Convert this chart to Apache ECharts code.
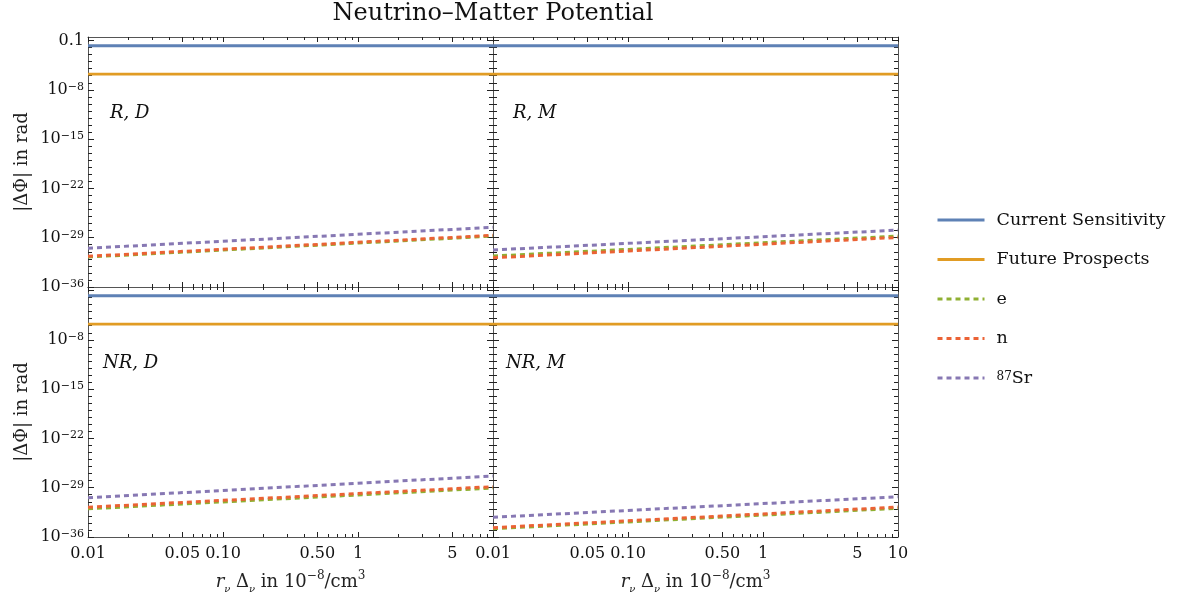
<!DOCTYPE html>
<html><head><meta charset="utf-8">
<script src="https://cdn.jsdelivr.net/npm/echarts@6/dist/echarts.min.js"></script>
<style>html,body{margin:0;padding:0;background:#fff}#c{width:1183px;height:606px}</style>
</head><body><div id="c"></div>
<script>
// ---------- data ----------
const titleText = 'Neutrino–Matter Potential';
const panelNames = ['R, D', 'R, M', 'NR, D', 'NR, M'];
const seriesNames = ['Current Sensitivity', 'Future Prospects', 'e', 'n', '87Sr'];
const xEnds = [0.01, 10];
const currentSensitivity = [1.8e-2, 1.8e-2];
const futureProspects = [1.7e-6, 1.7e-6];
// values at x = 0.01 and x = 10 for each panel
const eRD = [1.8e-32, 1.7e-29];
const nRD = [2.3e-32, 2.2e-29];
const srRD = [3.2e-31, 3.0e-28];
const eRM = [2.5e-32, 1.7e-29];
const nRM = [1.4e-32, 1.1e-29];
const srRM = [1.8e-31, 1.2e-28];
const eNRD = [1.0e-32, 9.1e-30];
const nNRD = [1.7e-32, 1.4e-29];
const srNRD = [3.8e-31, 4.6e-28];
const eNRM = [1.5e-35, 1.2e-32];
const nNRM = [2.1e-35, 1.8e-32];
const srNRM = [6.3e-34, 5.2e-31];
// ticks
const xMajorTicks = [0.01, 0.05, 0.1, 0.5, 1, 5, 10];
const xMajorLabels = ['0.01', '0.05', '0.10', '0.50', '1', '5', '10'];
const xMinorTicks = [0.02, 0.03, 0.04, 0.06, 0.07, 0.08, 0.09, 0.2, 0.3, 0.4, 0.6, 0.7, 0.8, 0.9, 2, 3, 4, 6, 7, 8, 9];
const yMajorExp = [-36, -29, -22, -15, -8, -1];
const yMajorLabels = ['10{s|−36}', '10{s|−29}', '10{s|−22}', '10{s|−15}', '10{s|−8}', '0.1'];
const yRange = [-36, -0.5];

const panelData = [
  [currentSensitivity, futureProspects, eRD, nRD, srRD],
  [currentSensitivity, futureProspects, eRM, nRM, srRM],
  [currentSensitivity, futureProspects, eNRD, nNRD, srNRD],
  [currentSensitivity, futureProspects, eNRM, nNRM, srNRM]
];
const colors = ['#5E81B5', '#E19C24', '#8FB032', '#EB6235', '#8778B3'];

// ---------- build ----------
const FONT = '"DejaVu Serif", "Liberation Serif", serif';
const L = Math.log10;
const grids = [
  {left: 88, top: 37, width: 405, height: 250},
  {left: 493, top: 37, width: 405, height: 250},
  {left: 88, top: 287, width: 405, height: 250},
  {left: 493, top: 287, width: 405, height: 250}
];
const yMinor = [];
for (let k = -35; k <= -1; k++) if (yMajorExp.indexOf(k) < 0) yMinor.push(k);

const lineCol = '#555';
const tickCol = '#222';
const xAxes = [], yAxes = [], series = [];
const xName = '{i|r}{sub|ν} Δ{sub|ν} in 10{sup|−8}/cm{sup|3}';
const yName = '|ΔΦ| in rad';

grids.forEach((g, gi) => {
  const isBottom = gi >= 2, isLeft = gi % 2 === 0;
  const base = {type: 'value', gridIndex: gi, min: L(xEnds[0]), max: L(xEnds[1]), splitLine: {show: false}};
  const xLabelVals = isLeft ? xMajorTicks.slice(0, -1) : xMajorTicks;
  const yLabelVals = isBottom ? yMajorExp.slice(0, -1) : yMajorExp;
  // bottom major
  xAxes.push(Object.assign({}, base, {
    position: 'bottom',
    axisLine: {show: true, onZero: false, lineStyle: {color: lineCol, width: 1}},
    axisTick: {show: true, inside: true, length: 5, customValues: xMajorTicks.map(L), lineStyle: {color: tickCol}},
    axisLabel: {show: isBottom, customValues: xLabelVals.map(L), margin: 9, color: '#111',
      fontFamily: FONT, fontSize: 16,
      formatter: v => { for (let i = 0; i < xMajorTicks.length; i++) if (Math.abs(L(xMajorTicks[i]) - v) < 1e-6) return xMajorLabels[i]; return ''; }},
    name: isBottom ? xName : '', nameLocation: 'middle', nameGap: 33,
    nameTextStyle: {fontFamily: FONT, fontSize: 18, color: '#222', lineHeight: 24,
      rich: {i: {fontStyle: 'italic', fontFamily: FONT, fontSize: 18, lineHeight: 24},
             sub: {fontStyle: 'italic', fontFamily: FONT, fontSize: 10, verticalAlign: 'bottom'},
             sup: {fontFamily: FONT, fontSize: 12, verticalAlign: 'top'}}}
  }));
  // bottom minor
  xAxes.push(Object.assign({}, base, {
    position: 'bottom', axisLine: {show: false, onZero: false},
    axisTick: {show: true, inside: true, length: 3, customValues: xMinorTicks.map(L), lineStyle: {color: tickCol}},
    axisLabel: {show: false}
  }));
  // top major
  xAxes.push(Object.assign({}, base, {
    position: 'top',
    axisLine: {show: true, onZero: false, lineStyle: {color: lineCol, width: 1}},
    axisTick: {show: true, inside: true, length: 5, customValues: xMajorTicks.map(L), lineStyle: {color: tickCol}},
    axisLabel: {show: false}
  }));
  // top minor
  xAxes.push(Object.assign({}, base, {
    position: 'top', axisLine: {show: false, onZero: false},
    axisTick: {show: true, inside: true, length: 3, customValues: xMinorTicks.map(L), lineStyle: {color: tickCol}},
    axisLabel: {show: false}
  }));

  const ybase = {type: 'value', gridIndex: gi, min: yRange[0], max: yRange[1], splitLine: {show: false}};
  yAxes.push(Object.assign({}, ybase, {
    position: 'left',
    axisLine: {show: true, onZero: false, lineStyle: {color: lineCol, width: 1}},
    axisTick: {show: true, inside: true, length: 6, customValues: yMajorExp, lineStyle: {color: tickCol}},
    axisLabel: {show: isLeft, customValues: yLabelVals, margin: 4, color: '#111', fontFamily: FONT, fontSize: 16,
      formatter: v => { const i = yMajorExp.indexOf(Math.round(v)); return i >= 0 ? yMajorLabels[i] : ''; },
      rich: {s: {fontFamily: FONT, fontSize: 11, verticalAlign: 'top', padding: [0, 0, 6, 0]}}},
    name: isLeft ? yName : '', nameLocation: 'middle', nameGap: 57, nameRotate: 90,
    nameTextStyle: {fontFamily: FONT, fontSize: 18, color: '#222'}
  }));
  yAxes.push(Object.assign({}, ybase, {
    position: 'left', axisLine: {show: false, onZero: false},
    axisTick: {show: true, inside: true, length: 4, customValues: yMinor, lineStyle: {color: tickCol}},
    axisLabel: {show: false}
  }));
  yAxes.push(Object.assign({}, ybase, {
    position: 'right',
    axisLine: {show: true, onZero: false, lineStyle: {color: lineCol, width: 1}},
    axisTick: {show: true, inside: true, length: 6, customValues: yMajorExp, lineStyle: {color: tickCol}},
    axisLabel: {show: false}
  }));
  yAxes.push(Object.assign({}, ybase, {
    position: 'right', axisLine: {show: false, onZero: false},
    axisTick: {show: true, inside: true, length: 4, customValues: yMinor, lineStyle: {color: tickCol}},
    axisLabel: {show: false}
  }));

  panelData[gi].forEach((vals, si) => {
    const dashed = si >= 2;
    series.push({
      type: 'line', name: seriesNames[si], xAxisIndex: gi * 4, yAxisIndex: gi * 4,
      data: xEnds.map((x, k) => [L(x), L(vals[k])]),
      symbol: 'none', showSymbol: false, silent: true, color: colors[si],
      lineStyle: {color: colors[si], width: dashed ? 3 : 2.8, type: dashed ? [5, 4] : 'solid'},
      z: 2 + si
    });
  });
});

const graphics = [{type: 'text', x: 493, y: 14, style: {text: titleText, fill: '#111',
  font: '24px ' + FONT, align: 'center', verticalAlign: 'middle'}}];
const labelPos = [[110, 113], [513, 113], [103, 363], [506, 363]];
panelNames.forEach((t, i) => graphics.push({type: 'text', x: labelPos[i][0], y: labelPos[i][1],
  style: {text: t, fill: '#111', font: 'italic 18px ' + FONT, align: 'left', verticalAlign: 'middle'}}));

const chart = echarts.init(document.getElementById('c'), null, {renderer: 'canvas'});
chart.setOption({
  backgroundColor: '#fff',
  animation: false,
  grid: grids.map(g => Object.assign({containLabel: false}, g)),
  xAxis: xAxes, yAxis: yAxes, series: series,
  graphic: graphics,
  legend: {
    orient: 'vertical', left: 931, top: 206, itemWidth: 47, itemHeight: 14, itemGap: 21.5,
    data: seriesNames, selectedMode: false,
    itemStyle: {opacity: 0},
    lineStyle: {width: 3},
    formatter: n => n === '87Sr' ? '{s|87}Sr' : n,
    textStyle: {fontFamily: FONT, fontSize: 17.5, color: '#111', lineHeight: 14, padding: [0, 0, 0, 7],
      rich: {s: {fontFamily: FONT, fontSize: 12, verticalAlign: 'top', lineHeight: 10}}}
  }
});
</script></body></html>
